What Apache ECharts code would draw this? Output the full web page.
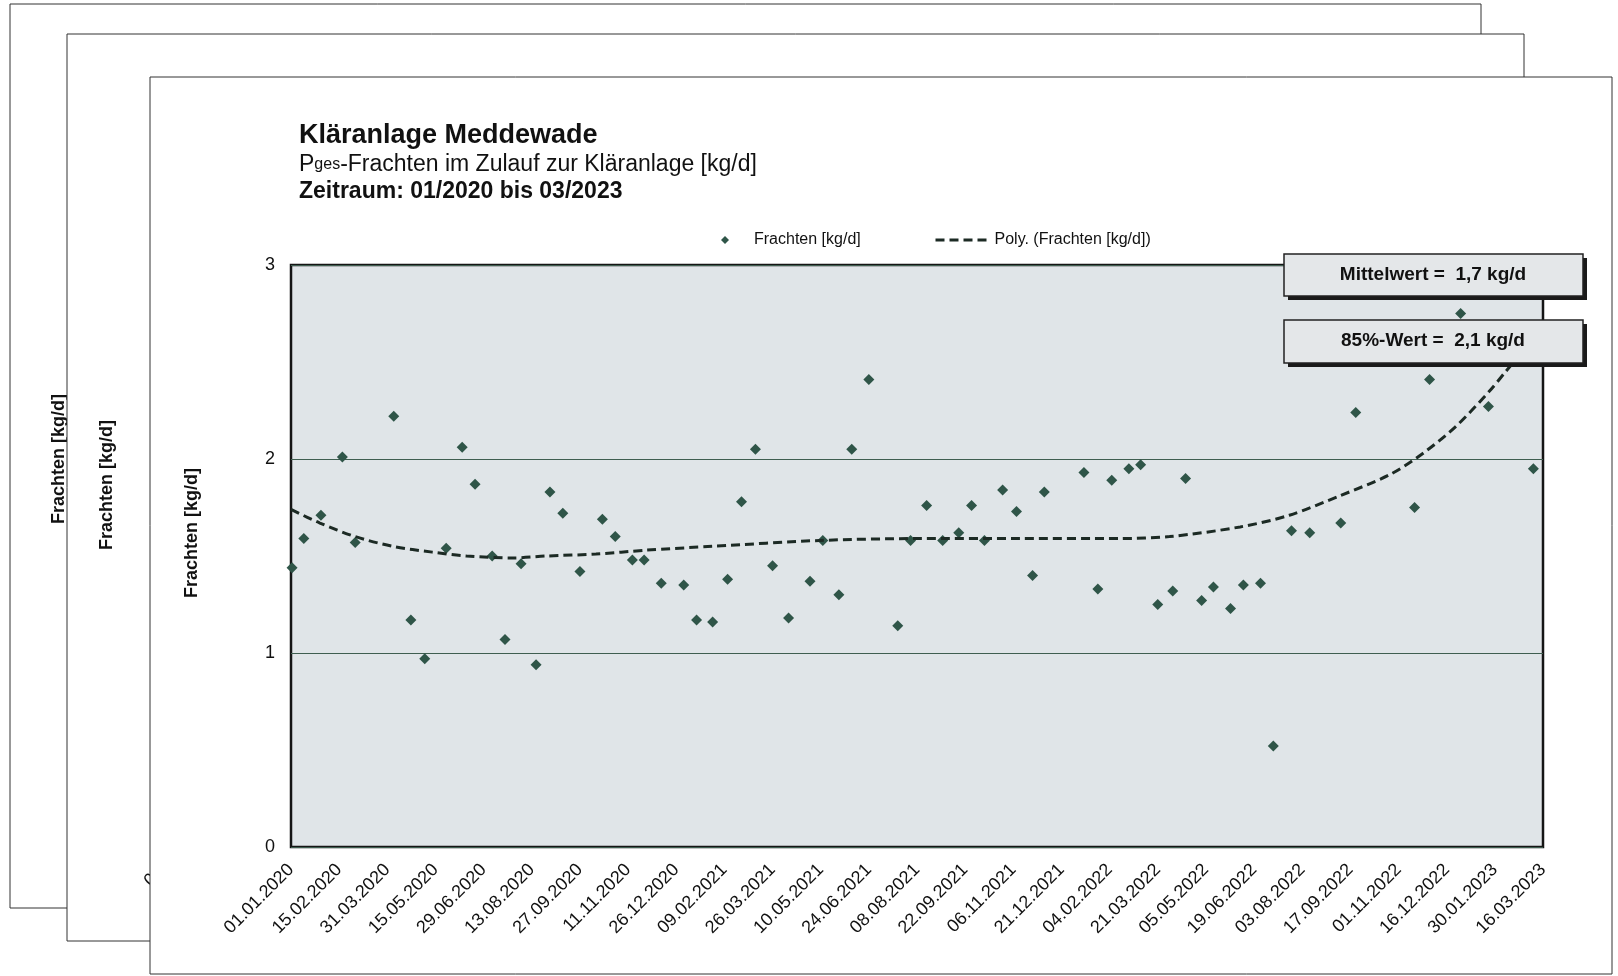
<!DOCTYPE html>
<html>
<head>
<meta charset="utf-8">
<title>Kläranlage Meddewade</title>
<script src="https://cdn.jsdelivr.net/npm/echarts/dist/echarts.min.js"></script>
<style>
html, body { margin: 0; padding: 0; background: #fff; }
#con { width: 1618px; height: 976px; }
</style>
</head>
<body>
<div id="con"></div>
<script>
// x-Achse: Tage seit 01.01.2020, Beschriftung alle 45 Tage
var tickStep = 45;
var tickLabels = ['01.01.2020', '15.02.2020', '31.03.2020', '15.05.2020', '29.06.2020', '13.08.2020',
    '27.09.2020', '11.11.2020', '26.12.2020', '09.02.2021', '26.03.2021', '10.05.2021', '24.06.2021',
    '08.08.2021', '22.09.2021', '06.11.2021', '21.12.2021', '04.02.2022', '21.03.2022', '05.05.2022',
    '19.06.2022', '03.08.2022', '17.09.2022', '01.11.2022', '16.12.2022', '30.01.2023', '16.03.2023'];

// Messungen (Tag seit 01.01.2020, Fracht kg/d)
var messTage = [1, 12, 28, 48, 60, 96, 112, 125, 145, 160, 172, 188, 200, 215, 229, 242, 254, 270, 291, 303,
    319, 330, 346, 367, 379, 394, 408, 421, 434, 450, 465, 485, 497, 512, 524, 540, 567, 579, 594, 609,
    624, 636, 648, 665, 678, 693, 704, 741, 754, 767, 783, 794, 810, 824, 836, 851, 862, 878, 890, 906,
    918, 935, 952, 981, 995, 1050, 1064, 1093, 1119, 1161];
var frachten = [1.44, 1.59, 1.71, 2.01, 1.57, 2.22, 1.17, 0.97, 1.54, 2.06, 1.87, 1.50, 1.07, 1.46, 0.94, 1.83, 1.72, 1.42, 1.69, 1.60,
    1.48, 1.48, 1.36, 1.35, 1.17, 1.16, 1.38, 1.78, 2.05, 1.45, 1.18, 1.37, 1.58, 1.30, 2.05, 2.41, 1.14, 1.58, 1.76, 1.58,
    1.62, 1.76, 1.58, 1.84, 1.73, 1.40, 1.83, 1.93, 1.33, 1.89, 1.95, 1.97, 1.25, 1.32, 1.90, 1.27, 1.34, 1.23, 1.35, 1.36,
    0.52, 1.63, 1.62, 1.67, 2.24, 1.75, 2.41, 2.75, 2.27, 1.95];

// Polynom-Trendlinie
var trendTage = [0, 27, 60, 95, 132, 164, 207, 239, 285, 332, 394, 494, 588, 681, 775, 821, 887, 933, 980, 1027, 1058, 1089, 1120, 1135, 1170];
var trendWerte = [1.74, 1.67, 1.60, 1.55, 1.52, 1.50, 1.49, 1.50, 1.51, 1.53, 1.55, 1.58, 1.59, 1.59, 1.59, 1.60, 1.65, 1.71, 1.81, 1.92, 2.03, 2.17, 2.35, 2.45, 2.68];

var mittelwertText = 'Mittelwert =  1,7 kg/d';
var wert85Text = '85%-Wert =  2,1 kg/d';

var font = "'Liberation Sans', Arial, sans-serif";
var trendFarbe = '#1c2a24';

var punkte = [];
for (var i = 0; i < messTage.length; i++) {
    punkte.push([messTage[i], frachten[i]]);
}
var trend = [];
for (var i = 0; i < trendTage.length; i++) {
    trend.push([trendTage[i], trendWerte[i]]);
}

var myChart = echarts.init(document.getElementById('con'));

var option = {
    backgroundColor: '#fff',
    animation: false,
    textStyle: { fontFamily: font },
    title: {
        left: 294,
        top: 116,
        text: '{t|Kläranlage Meddewade}\n{s|P}{u|ges}{s|-Frachten im Zulauf zur Kläranlage [kg/d]}\n{b|Zeitraum: 01/2020 bis 03/2023}',
        textStyle: {
            fontWeight: 'normal',
            rich: {
                t: { fontSize: 27, fontWeight: 'bold', lineHeight: 30, color: '#111', fontFamily: font },
                s: { fontSize: 23, fontWeight: 'normal', lineHeight: 27, color: '#111', fontFamily: font },
                u: { fontSize: 16, fontWeight: 'normal', lineHeight: 27, color: '#111', fontFamily: font },
                b: { fontSize: 23, fontWeight: 'bold', lineHeight: 27, color: '#111', fontFamily: font }
            }
        }
    },
    legend: [
        {
            left: 716,
            top: 227,
            itemWidth: 8,
            itemHeight: 8,
            textStyle: { fontSize: 16, color: '#111', fontFamily: font, padding: [0, 0, 0, 20] },
            data: [{ name: 'Frachten [kg/d]', icon: 'diamond' }]
        },
        {
            left: 929,
            top: 227,
            itemWidth: 54,
            itemHeight: 8,
            textStyle: { fontSize: 16, color: '#111', fontFamily: font },
            data: [{
                name: 'Poly. (Frachten [kg/d])',
                itemStyle: { opacity: 0 },
                lineStyle: { color: trendFarbe, width: 3, type: [9, 5], opacity: 1 }
            }]
        }
    ],
    grid: {
        left: 291,
        right: 75,
        top: 265,
        bottom: 129,
        show: true,
        backgroundColor: '#e0e5e8',
        borderColor: '#151515',
        borderWidth: 2.5,
        outerBoundsMode: 'none'
    },
    xAxis: {
        type: 'value',
        min: 0,
        max: tickStep * (tickLabels.length - 1),
        interval: tickStep,
        axisLine: { show: false },
        axisTick: { show: false },
        splitLine: { show: false },
        axisLabel: {
            rotate: 45,
            margin: 20,
            fontSize: 18,
            color: '#111',
            fontFamily: font,
            showMinLabel: true,
            showMaxLabel: true,
            hideOverlap: false,
            formatter: function(v) {
                return tickLabels[Math.round(v / tickStep)] || '';
            }
        }
    },
    yAxis: {
        type: 'value',
        min: 0,
        max: 3,
        interval: 1,
        name: 'Frachten [kg/d]',
        nameLocation: 'middle',
        nameRotate: 90,
        nameGap: 90,
        nameMoveOverlap: false,
        nameTextStyle: { fontSize: 18, fontWeight: 'bold', color: '#111', fontFamily: font, padding: [0, 0, 0, 46] },
        axisLine: { show: false },
        axisTick: { show: false },
        splitLine: { show: true, lineStyle: { color: '#3f5e50', width: 1.2 } },
        axisLabel: { fontSize: 18, color: '#111', margin: 16, fontFamily: font }
    },
    series: [
        {
            name: 'Frachten [kg/d]',
            type: 'scatter',
            symbol: 'diamond',
            symbolSize: 11,
            itemStyle: { color: '#2f5548', opacity: 1 },
            data: punkte,
            z: 3
        },
        {
            name: 'Poly. (Frachten [kg/d])',
            type: 'line',
            smooth: 0.3,
            symbol: 'none',
            lineStyle: { color: trendFarbe, width: 3, type: [9, 5] },
            itemStyle: { color: trendFarbe },
            data: trend,
            z: 4
        }
    ],
    graphic: {
        elements: [
            // hintere Blätter
            { type: 'rect', z: -30, shape: { x: 10, y: 4, width: 1471, height: 904 },
              style: { fill: '#fff', stroke: '#333', lineWidth: 1 } },
            { type: 'text', z: -29, x: 59, y: 459, rotation: Math.PI / 2,
              style: { text: 'Frachten [kg/d]', fontSize: 18, fontWeight: 'bold', fontFamily: font, fill: '#111', align: 'center', verticalAlign: 'middle' } },
            { type: 'rect', z: -20, shape: { x: 67, y: 34, width: 1457, height: 907 },
              style: { fill: '#fff', stroke: '#333', lineWidth: 1 } },
            { type: 'text', z: -19, x: 107, y: 485, rotation: Math.PI / 2,
              style: { text: 'Frachten [kg/d]', fontSize: 18, fontWeight: 'bold', fontFamily: font, fill: '#111', align: 'center', verticalAlign: 'middle' } },
            { type: 'text', z: -19, x: 211, y: 820, rotation: Math.PI / 4,
              style: { text: tickLabels[0], fontSize: 18, fontFamily: font, fill: '#111', align: 'right', verticalAlign: 'middle' } },
            // vorderes Blatt
            { type: 'rect', z: -10, shape: { x: 150, y: 77, width: 1462, height: 897 },
              style: { fill: '#fff', stroke: '#333', lineWidth: 1 } },
            // Kennwerte
            { type: 'rect', z: 50, shape: { x: 1288, y: 258, width: 299, height: 42 }, style: { fill: '#1a1a1a' } },
            { type: 'rect', z: 51, shape: { x: 1284, y: 254, width: 299, height: 42 },
              style: { fill: '#e4e7e9', stroke: '#222', lineWidth: 1.5 } },
            { type: 'text', z: 52, x: 1433, y: 275,
              style: { text: mittelwertText, fontSize: 19, fontWeight: 'bold', fontFamily: font, fill: '#111', align: 'center', verticalAlign: 'middle' } },
            { type: 'rect', z: 50, shape: { x: 1288, y: 324, width: 299, height: 43 }, style: { fill: '#1a1a1a' } },
            { type: 'rect', z: 51, shape: { x: 1284, y: 320, width: 299, height: 43 },
              style: { fill: '#e4e7e9', stroke: '#222', lineWidth: 1.5 } },
            { type: 'text', z: 52, x: 1433, y: 341,
              style: { text: wert85Text, fontSize: 19, fontWeight: 'bold', fontFamily: font, fill: '#111', align: 'center', verticalAlign: 'middle' } }
        ]
    }
};
myChart.setOption(option);
</script>
</body>
</html>
